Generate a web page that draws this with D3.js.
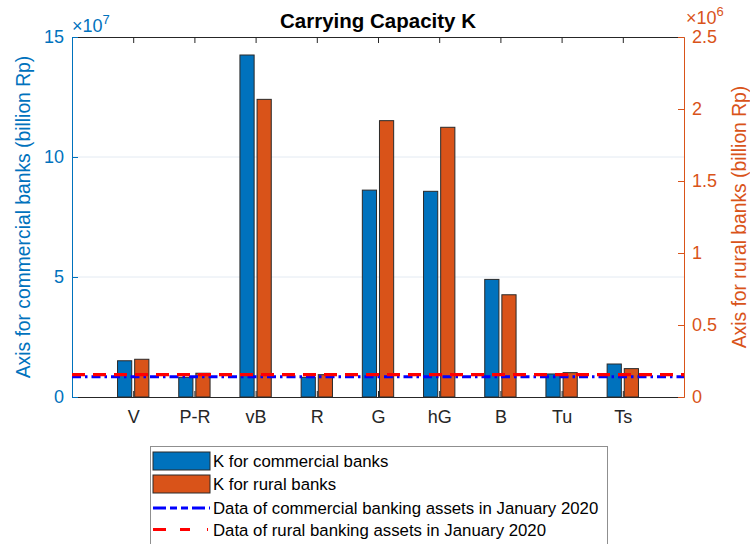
<!DOCTYPE html>
<html>
<head>
<meta charset="utf-8">
<script src="https://cdn.jsdelivr.net/npm/d3@7"></script>
<style>
  html, body { margin: 0; padding: 0; background: #fff; }
  svg { display: block; font-family: "Liberation Sans", Arial, Helvetica, sans-serif; }
</style>
</head>
<body>
<svg id="chart" width="750" height="544"></svg>
<script>
// Regions / bank classes on the x axis
const categories = ["V", "P-R", "vB", "R", "G", "hG", "B", "Tu", "Ts"];
// Carrying capacity K (billion Rp)
const commercialK = [1.51e7, 0.82e7, 14.25e7, 0.82e7, 8.62e7, 8.57e7, 4.90e7, 0.96e7, 1.375e7];
const ruralK = [2.62e5, 1.65e5, 2.067e6, 1.55e5, 1.919e6, 1.873e6, 7.1e5, 1.69e5, 1.97e5];
// Observed total assets, January 2020 (billion Rp)
const commercialAssets = 0.84e7;
const ruralAssets = 1.55e5;
// Tick values for both y axes
const leftTicks = [0, 5e7, 10e7, 15e7];
const rightTicks = [0, 0.5e6, 1e6, 1.5e6, 2e6, 2.5e6];
const legendLabels = [
  "K for commercial banks",
  "K for rural banks",
  "Data of commercial banking assets in January 2020",
  "Data of rural banking assets in January 2020"
];

const BLUE = "#0072BD", ORANGE = "#D95319", AXIS = "#262626";
const svg = d3.select("#chart");
const L = 72, R = 684, T = 37, B = 397;

const x = d3.scaleLinear().domain([0, categories.length + 1]).range([L, R]);
const yL = d3.scaleLinear().domain([0, 15e7]).range([B, T]);
const yR = d3.scaleLinear().domain([0, 2.5e6]).range([B, T]);

// grid lines from the left axis
svg.append("g").selectAll("line")
  .data(leftTicks.filter(v => v > 0 && v < 15e7))
  .join("line")
  .attr("x1", L).attr("x2", R)
  .attr("y1", d => yL(d)).attr("y2", d => yL(d))
  .attr("stroke", "#e3eaf2").attr("stroke-width", 1);

// axes
const idx = categories.map((_, i) => i + 1);
const gBottom = svg.append("g").attr("transform", `translate(0,${B})`)
  .call(d3.axisBottom(x).tickValues(idx).tickFormat(i => categories[i - 1])
    .tickSizeInner(-6).tickSizeOuter(0).tickPadding(13));
const gTop = svg.append("g").attr("transform", `translate(0,${T})`)
  .call(d3.axisTop(x).tickValues(idx).tickFormat("")
    .tickSizeInner(-6).tickSizeOuter(0));
[gBottom, gTop].forEach(g => {
  g.select(".domain").attr("stroke", AXIS);
  g.selectAll(".tick line").attr("stroke", AXIS);
  g.selectAll("text").attr("fill", AXIS).attr("font-size", 18)
    .attr("font-family", "Liberation Sans, Arial, sans-serif");
});

const gLeft = svg.append("g").attr("transform", `translate(${L},0)`)
  .call(d3.axisLeft(yL).tickValues(leftTicks).tickFormat(d => d / 1e7)
    .tickSizeInner(-6).tickSizeOuter(0).tickPadding(8));
const gRight = svg.append("g").attr("transform", `translate(${R},0)`)
  .call(d3.axisRight(yR).tickValues(rightTicks).tickFormat(d => d / 1e6)
    .tickSizeInner(-6).tickSizeOuter(0).tickPadding(8));
[[gLeft, BLUE], [gRight, ORANGE]].forEach(([g, c]) => {
  g.select(".domain").attr("stroke", c);
  g.selectAll(".tick line").attr("stroke", c);
  g.selectAll("text").attr("fill", c).attr("font-size", 18)
    .attr("font-family", "Liberation Sans, Arial, sans-serif");
});

// exponent markers
const exp = (tx, ty, power, color) => {
  const t = svg.append("text").attr("x", tx).attr("y", ty)
    .attr("fill", color).attr("font-size", 18);
  t.append("tspan").text("\u00d710");
  t.append("tspan").attr("font-size", 13).attr("dy", -8).text(power);
};
exp(72, 32, "7", BLUE);
exp(686, 24, "6", ORANGE);

// bars
const bw = 0.232, gap = 0.024;
svg.append("g").selectAll("rect")
  .data(commercialK)
  .join("rect")
  .attr("x", (d, i) => x(i + 1 - gap - bw))
  .attr("width", x(bw) - x(0))
  .attr("y", d => yL(d))
  .attr("height", d => B - yL(d))
  .attr("fill", BLUE).attr("stroke", "#2a2a2a").attr("stroke-width", 1);
svg.append("g").selectAll("rect")
  .data(ruralK)
  .join("rect")
  .attr("x", (d, i) => x(i + 1 + gap))
  .attr("width", x(bw) - x(0))
  .attr("y", d => yR(d))
  .attr("height", d => B - yR(d))
  .attr("fill", ORANGE).attr("stroke", "#2a2a2a").attr("stroke-width", 1);

// reference lines: observed assets
svg.append("line")
  .attr("x1", x(0)).attr("x2", x(categories.length + 1))
  .attr("y1", yL(commercialAssets)).attr("y2", yL(commercialAssets))
  .attr("stroke", "#0000ff").attr("stroke-width", 3)
  .attr("stroke-dasharray", "9,4,2.5,4");
svg.append("line")
  .attr("x1", x(0)).attr("x2", x(categories.length + 1))
  .attr("y1", yR(ruralAssets)).attr("y2", yR(ruralAssets))
  .attr("stroke", "#ff0000").attr("stroke-width", 3.2)
  .attr("stroke-dasharray", "13,8");

// title and axis labels
svg.append("text").attr("x", 378).attr("y", 28).attr("text-anchor", "middle")
  .attr("font-size", 20.5).attr("font-weight", "bold").attr("fill", "#000")
  .text("Carrying Capacity K");
svg.append("text")
  .attr("transform", `translate(30,${(T + B) / 2}) rotate(-90)`)
  .attr("text-anchor", "middle").attr("font-size", 19.3).attr("fill", BLUE)
  .text("Axis for commercial banks (billion Rp)");
svg.append("text")
  .attr("transform", `translate(746,${(T + B) / 2}) rotate(-90)`)
  .attr("text-anchor", "middle").attr("font-size", 19.3).attr("fill", ORANGE)
  .text("Axis for rural banks (billion Rp)");

// legend
const lg = svg.append("g");
lg.append("rect").attr("x", 150.5).attr("y", 446.5).attr("width", 457).attr("height", 120)
  .attr("fill", "#fff").attr("stroke", "#8f8f8f").attr("stroke-width", 1);
const rowY = [461, 484, 508, 529.5];
lg.append("rect").attr("x", 153).attr("y", rowY[0] - 9).attr("width", 57).attr("height", 18)
  .attr("fill", BLUE).attr("stroke", "#2a2a2a");
lg.append("rect").attr("x", 153).attr("y", rowY[1] - 9).attr("width", 57).attr("height", 18)
  .attr("fill", ORANGE).attr("stroke", "#2a2a2a");
lg.append("line").attr("x1", 153).attr("x2", 210).attr("y1", rowY[2]).attr("y2", rowY[2])
  .attr("stroke", "#0000ff").attr("stroke-width", 3).attr("stroke-dasharray", "13,4,7,4,7,4");
lg.append("line").attr("x1", 153).attr("x2", 210).attr("y1", rowY[3]).attr("y2", rowY[3])
  .attr("stroke", "#ff0000").attr("stroke-width", 3).attr("stroke-dasharray", "13,14,10,17,1");
lg.selectAll("text.lab").data(legendLabels).join("text")
  .attr("class", "lab")
  .attr("x", 213).attr("y", (d, i) => rowY[i] + 6)
  .attr("font-size", 16.8).attr("fill", "#000")
  .text(d => d);
</script>
</body>
</html>
